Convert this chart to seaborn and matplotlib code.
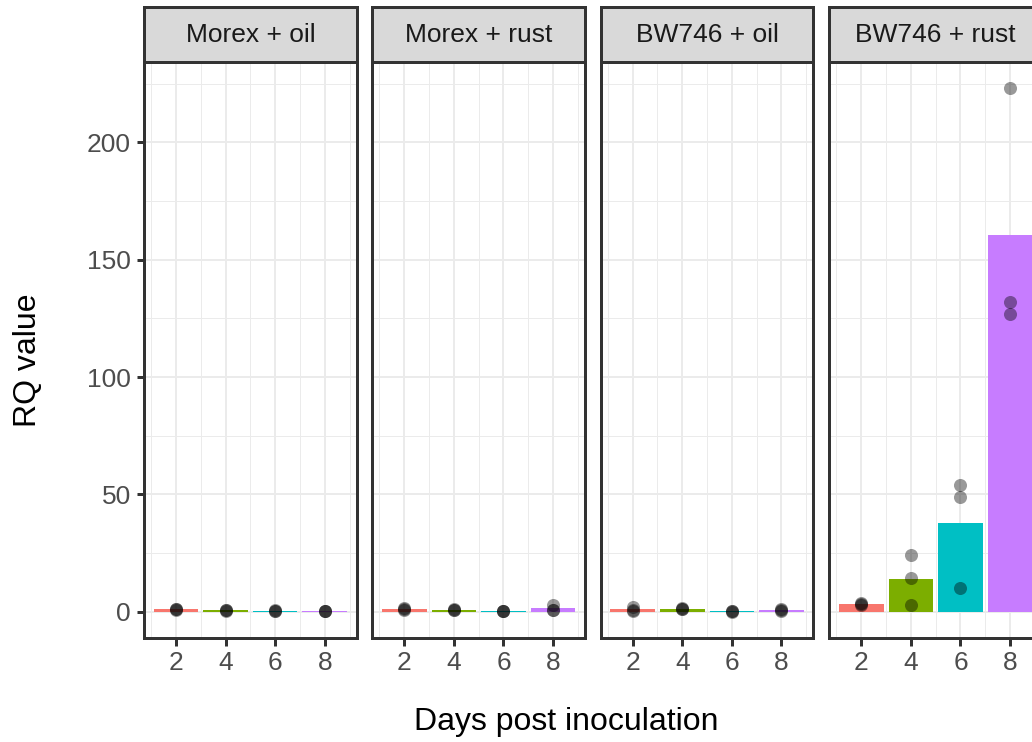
import matplotlib
matplotlib.use("Agg")
import matplotlib.pyplot as plt
import seaborn as sns
import pandas as pd
import numpy as np

# ---- data ----
groups = ["Morex + oil", "Morex + rust", "BW746 + oil", "BW746 + rust"]
days = [2, 4, 6, 8]
morex_oil = [[1.0, 1.2, 0.8], [0.6, 0.5, 0.7], [0.5, 0.6, 0.4], [0.3, 0.4, 0.5]]
morex_rust = [[1.8, 1.0, 0.6], [1.0, 0.8, 0.9], [0.4, 0.5, 0.3], [2.8, 0.9, 0.6]]
bw_oil = [[2.0, 0.9, 0.5], [1.6, 1.2, 1.0], [0.2, 0.1, 0.2], [1.2, 0.6, 0.3]]
bw_rust = [[3.8, 3.2, 3.1], [24.3, 14.3, 3.0], [54.2, 49.0, 10.2], [223.0, 132.0, 127.0]]
day_colors = ["#F8766D", "#7CAE00", "#00BFC4", "#C77CFF"]
y_ticks = [0, 50, 100, 150, 200]

rows = []
for g, vals in zip(groups, [morex_oil, morex_rust, bw_oil, bw_rust]):
    for d, reps in zip(days, vals):
        for v in reps:
            rows.append({"group": g, "day": d, "rq": v})
df = pd.DataFrame(rows)

sns.set_theme(style="white")
plt.rcParams["font.family"] = ["Liberation Sans", "DejaVu Sans"]

W, H = 1032, 742
fig = plt.figure(figsize=(W / 100, H / 100), dpi=100)

px2pt = 72 / 100
panel_lefts = [144, 372.3, 600.7, 829.3]
panel_w = 212.7
panel_top, panel_bot = 62, 638
strip_top = 7
border_c = "#333333"
grid_c = "#EBEBEB"
palette = dict(zip(days, day_colors))

for i, (g, left) in enumerate(zip(groups, panel_lefts)):
    ax = fig.add_axes([left / W, 1 - panel_bot / H, panel_w / W, (panel_bot - panel_top) / H])
    sub = df[df["group"] == g]
    sns.barplot(data=sub, x="day", y="rq", hue="day", palette=palette, native_scale=True,
                errorbar=None, width=0.9, linewidth=0, dodge=False, legend=False,
                saturation=1, ax=ax)
    sns.stripplot(data=sub, x="day", y="rq", native_scale=True, jitter=False, color="black",
                  alpha=0.4, size=9.4, linewidth=0, ax=ax, zorder=5)
    ax.set_xlim(0.71, 9.29)
    ax.set_ylim(-11.15, 234.2)
    ax.set_xticks(days)
    ax.set_xticks([1, 3, 5, 7, 9], minor=True)
    ax.set_yticks(y_ticks)
    ax.set_yticks([25, 75, 125, 175, 225], minor=True)
    ax.set_axisbelow(True)
    ax.grid(True, which="major", color=grid_c, linewidth=2 * px2pt)
    ax.grid(True, which="minor", color=grid_c, linewidth=1 * px2pt)
    for s in ax.spines.values():
        s.set_visible(True)
        s.set_color(border_c)
        s.set_linewidth(3 * px2pt)
    ax.tick_params(axis="x", which="major", bottom=True, length=7.5 * px2pt, width=3 * px2pt,
                   color=border_c, labelsize=26.4 * px2pt, labelcolor="#4D4D4D", pad=4)
    ax.tick_params(axis="both", which="minor", length=0)
    if i == 0:
        ax.tick_params(axis="y", which="major", left=True, length=7.5 * px2pt, width=3 * px2pt,
                       color=border_c, labelsize=26.4 * px2pt, labelcolor="#4D4D4D", pad=4)
    else:
        ax.tick_params(axis="y", which="major", left=False, labelleft=False)
    ax.set_xlabel("")
    ax.set_ylabel("")

    sax = fig.add_axes([left / W, 1 - panel_top / H, panel_w / W, (panel_top - strip_top) / H])
    sax.set_facecolor("#D9D9D9")
    sax.set_xticks([])
    sax.set_yticks([])
    for s in sax.spines.values():
        s.set_visible(True)
        s.set_color(border_c)
        s.set_linewidth(3 * px2pt)
    sax.text(0.5, 0.5, g, ha="center", va="center", fontsize=26.4 * px2pt, color="#1A1A1A",
             transform=sax.transAxes)

fig.text(566 / W, 1 - 722 / H, "Days post inoculation", ha="center", va="center",
         fontsize=32 * px2pt, color="black")
fig.text(28 / W, 1 - 360 / H, "RQ value", ha="center", va="center", rotation=90,
         fontsize=32 * px2pt, color="black")

fig.savefig("out.png", dpi=100)
